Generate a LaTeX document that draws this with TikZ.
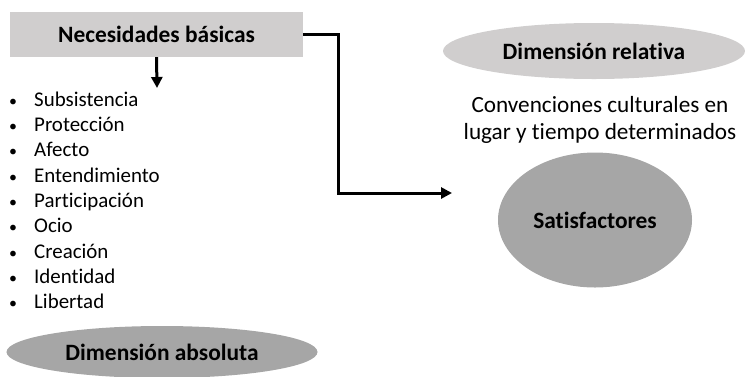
\documentclass[tikz,border=0pt]{standalone}
\usepackage{fontspec}
\setmainfont[Ligatures=NoCommon]{Carlito}
\usepackage{tikz}
\usetikzlibrary{shapes.geometric}
\usetikzlibrary{arrows.meta}
\definecolor{lightbox}{HTML}{D0CECE}
\definecolor{darkbox}{HTML}{A6A6A6}
\tikzset{title/.style={font=\fontsize{23.5}{28}\selectfont\bfseries, inner sep=0pt},
 listitem/.style={anchor=base west, inner sep=0pt, font=\fontsize{21}{24}\selectfont},
 oval/.style={ellipse, inner sep=0pt},
 link/.style={line width=3bp, -{Triangle[length=11bp, width=11bp]}},
 }

\begin{document}
\begin{tikzpicture}[x=1bp, y=-1bp]
        \useasboundingbox (0,0) rectangle (745,376);
        \node[title, fill=lightbox, minimum width=293bp, minimum height=45bp] (necesidades) at (156.5, 34.5) {Necesidades básicas};
        \foreach \x[count=\i] in {Subsistencia, Protección, Afecto, Entendimiento, Participación, Ocio, Creación, Identidad, Libertad} {
            \node[listitem] (item\i) at (9, 81+25.3*\i) {\makebox[25bp][l]{\fontsize{16}{16}\selectfont•}\x};
        }
        \node[title, oval, fill=darkbox, minimum width=311bp, minimum height=52bp] (absoluta) at (162, 352) {Dimensión absoluta};

        \node[title, oval, fill=lightbox, minimum width=302bp, minimum height=56bp] (relativa) at (594, 51) {Dimensión relativa};
        \node[align=center, inner sep=0pt, font=\fontsize{23.3}{26.5}\selectfont] (convenciones) at (600, 120) {Convenciones culturales en\\lugar y tiempo determinados};
        \node[title, oval, fill=darkbox, minimum width=194bp, minimum height=135bp] (satisfactores) at (595, 220) {Satisfactores};

        \coordinate (down) at (157, 88);
        \coordinate (turn) at (338, 193);
        \coordinate (tip) at (452, 193);
        \draw[link] (necesidades.south) -- (down);
        \draw[link] (necesidades.east) -| (turn) -- (tip);
    \end{tikzpicture}
\end{document}
